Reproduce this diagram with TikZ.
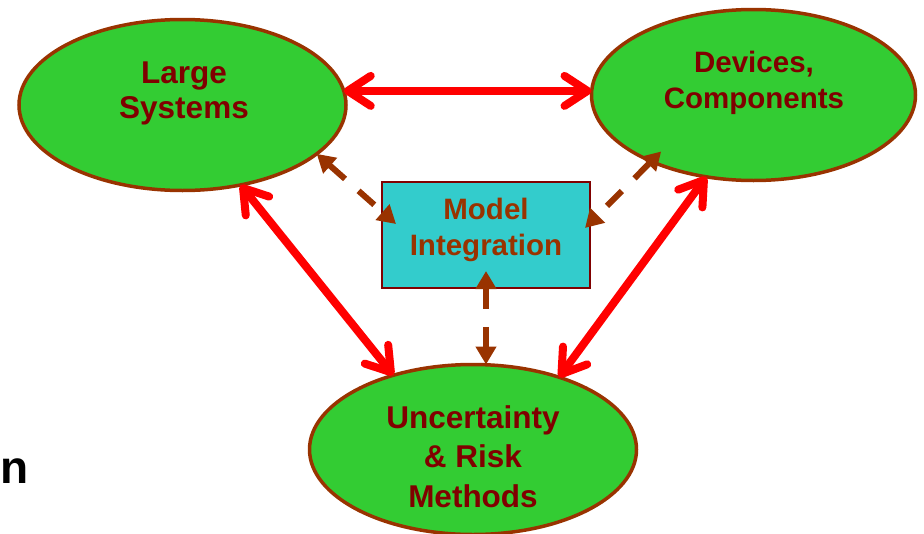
\documentclass[tikz,border=0pt]{standalone}
\usepackage{fontspec}
\setmainfont{Liberation Sans}
\usetikzlibrary{shapes.geometric,arrows.meta,calc}
\definecolor{leaf}{HTML}{33CC33}
\definecolor{lagoon}{HTML}{33CCCC}
\definecolor{rust}{HTML}{993300}
\definecolor{darkmaroon}{HTML}{800000}
\begin{document}
\begin{tikzpicture}[x=1pt,y=-1pt,
  blob/.style={ellipse, draw=rust, line width=3.5pt, fill=leaf, inner sep=0pt, outer sep=0pt},
  txt/.style={align=center, text=darkmaroon, inner sep=0pt, anchor=base},
  big/.style={font=\bfseries\fontsize{31.5}{35}\selectfont},
  mid/.style={font=\bfseries\fontsize{29.5}{36}\selectfont},
  link/.style={draw=red, line width=8pt,
    {Straight Barb[length=23pt,width=30pt,round]}-{Straight Barb[length=23pt,width=30pt,round]}},
  feed/.style={draw=rust, line width=6pt, dash pattern=on 21pt off 18pt,
    {Triangle[length=18pt,width=20pt]}-{Triangle[length=18pt,width=20pt]}},
]
\useasboundingbox (0,0) rectangle (924,533);

% the three domains
\node[blob, minimum width=327pt, minimum height=171pt] (ls) at (182.5,105) {};
\node[blob, minimum width=324pt, minimum height=171pt] (dc) at (753.5,95) {};
\node[blob, minimum width=327pt, minimum height=170pt] (ur) at (473,449.5) {};

% central integration box
\node[draw=darkmaroon, line width=2pt, fill=lagoon, minimum width=208pt,
      minimum height=106pt, inner sep=0pt, outer sep=0pt] (mi) at (486,235) {};

% labels (base anchor sits on the last line)
\node[txt, big] (lsT) at (184,118) {Large\\Systems};
\node[txt, mid] (dcT) at (754,108) {Devices,\\Components};
\node[txt, font=\bfseries\fontsize{31.5}{39.5}\selectfont] (urT) at (473,507) {Uncertainty\\\& Risk\\Methods};
\node[txt, mid, text=rust] (miT) at (486,255) {Model\\Integration};

\node[anchor=base west, inner sep=0pt, font=\bfseries\fontsize{46}{46}\selectfont] (frag) at (0,483) {n};

% solid links between the domains
\draw[link] (ls.5) -- (ls.5 -| dc.west);
\draw[link] (ls.-54) -- (ur.137);
\draw[link] (dc.-120) -- (ur.40);

% dashed links to the integration box
\draw[feed] (ls.-20) -- ($(mi.north west)+(14,42)$);
\draw[feed, shorten <=-14pt] (dc.-147) -- ($(mi.north east)+(-5,46)$);
\draw[feed] ($(mi.south)+(0,-17)$) -- (mi.south |- ur.north);
\end{tikzpicture}
\end{document}
